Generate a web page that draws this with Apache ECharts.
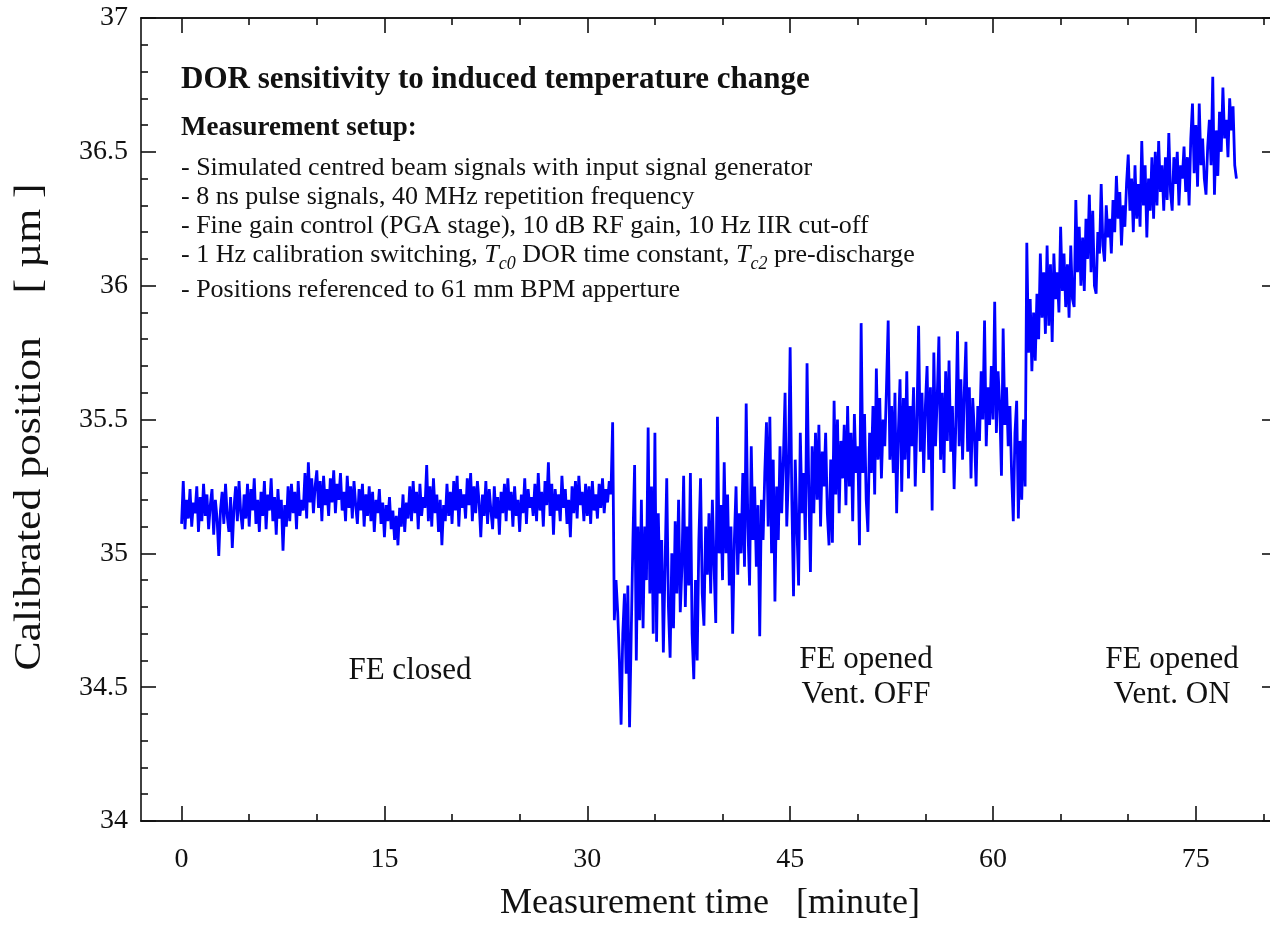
<!DOCTYPE html>
<html>
<head>
<meta charset="utf-8">
<title>DOR sensitivity to induced temperature change</title>
<script src="https://cdn.jsdelivr.net/npm/echarts@6/dist/echarts.min.js"></script>
<style>
  html, body { margin: 0; padding: 0; overflow: hidden; background: #ffffff; }
  #chart { width: 1290px; height: 925px; }
</style>
</head>
<body>
<div id="chart"></div>
<script>
// Sampling interval of the logged position, in minutes (8 samples per minute)
const sampleStepMin = 0.125;

// Calibrated beam position [um], one row per minute of measurement
const positionUm = [
  35.11, 35.27, 35.09, 35.20, 35.13, 35.24, 35.10, 35.19,
  35.15, 35.25, 35.08, 35.21, 35.12, 35.26, 35.14, 35.22,
  35.09, 35.18, 35.24, 35.07, 35.20, 35.13, 34.99, 35.16,
  35.23, 35.11, 35.26, 35.14, 35.08, 35.21, 35.02, 35.17,
  35.25, 35.12, 35.27, 35.15, 35.09, 35.22, 35.13, 35.26,
  35.10, 35.24, 35.16, 35.28, 35.11, 35.20, 35.08, 35.23,
  35.14, 35.27, 35.09, 35.22, 35.16, 35.28, 35.12, 35.21,
  35.07, 35.24, 35.13, 35.20, 35.01, 35.18, 35.10, 35.25,
  35.12, 35.26, 35.15, 35.23, 35.09, 35.27, 35.14, 35.20,
  35.16, 35.30, 35.13, 35.34, 35.19, 35.28, 35.15, 35.25,
  35.31, 35.17, 35.27, 35.12, 35.29, 35.18, 35.24, 35.14,
  35.28, 35.19, 35.31, 35.15, 35.26, 35.20, 35.30, 35.16,
  35.23, 35.12, 35.29, 35.17, 35.25, 35.13, 35.27, 35.18,
  35.11, 35.24, 35.16, 35.26, 35.10, 35.22, 35.14, 35.25,
  35.12, 35.23, 35.08, 35.20, 35.15, 35.24, 35.11, 35.19,
  35.06, 35.18, 35.12, 35.21, 35.09, 35.16, 35.05, 35.14,
  35.03, 35.17, 35.10, 35.22, 35.08, 35.19, 35.13, 35.25,
  35.12, 35.27, 35.15, 35.23, 35.09, 35.26, 35.14, 35.21,
  35.17, 35.33, 35.12, 35.25, 35.10, 35.28, 35.15, 35.22,
  35.08, 35.20, 35.03, 35.18, 35.12, 35.26, 35.14, 35.23,
  35.11, 35.27, 35.16, 35.29, 35.10, 35.24, 35.17, 35.22,
  35.13, 35.28, 35.18, 35.30, 35.12, 35.25, 35.15, 35.27,
  35.19, 35.06, 35.22, 35.14, 35.27, 35.11, 35.24, 35.16,
  35.09, 35.25, 35.13, 35.21, 35.07, 35.23, 35.15, 35.26,
  35.12, 35.28, 35.16, 35.23, 35.10, 35.25, 35.14, 35.20,
  35.08, 35.22, 35.15, 35.28, 35.11, 35.24, 35.17, 35.21,
  35.14, 35.26, 35.12, 35.30, 35.16, 35.23, 35.10, 35.27,
  35.18, 35.34, 35.14, 35.26, 35.07, 35.24, 35.16, 35.22,
  35.12, 35.29, 35.17, 35.24, 35.11, 35.20, 35.06, 35.25,
  35.15, 35.27, 35.13, 35.29, 35.18, 35.23, 35.12, 35.26,
  35.14, 35.25, 35.11, 35.27, 35.16, 35.22, 35.13, 35.26,
  35.17, 35.28, 35.15, 35.24, 35.19, 35.27, 35.22, 35.49,
  34.75, 34.90, 34.78, 34.60, 34.36, 34.70, 34.85, 34.55,
  34.88, 34.35, 34.70, 35.05, 35.33, 34.60, 35.10, 34.75,
  35.20, 34.72, 35.10, 34.90, 35.47, 34.85, 35.25, 34.70,
  35.45, 34.67, 35.15, 34.85, 35.05, 34.63, 34.95, 35.28,
  34.80, 34.61, 35.00, 34.72, 35.12, 34.85, 35.20, 34.78,
  34.95, 35.29, 34.80, 35.10, 34.88, 35.30, 34.70, 34.53,
  34.90, 34.60, 35.05, 35.28, 34.85, 34.73, 35.10, 34.92,
  35.15, 34.85, 35.20, 34.95, 34.74, 35.51, 35.00, 35.18,
  34.90, 35.34, 35.00, 35.22, 34.88, 35.10, 34.70, 35.05,
  35.25, 34.92, 35.15, 35.00, 35.30, 34.95, 35.56, 35.10,
  34.88, 35.40, 35.05, 35.25, 34.95, 35.18, 34.69, 35.20,
  35.05, 35.30, 35.49, 35.10, 35.51, 35.00, 35.35, 34.82,
  35.25, 35.05, 35.40, 35.15, 35.35, 35.60, 35.10, 35.30,
  35.77, 35.20, 34.84, 35.35, 35.10, 34.88, 35.45, 35.15,
  35.30, 35.05, 35.71, 35.25, 34.93, 35.40, 35.15, 35.45,
  35.20, 35.48, 35.10, 35.38, 35.25, 35.45, 35.15, 35.03,
  35.35, 35.04, 35.57, 35.22, 35.50, 35.15, 35.42, 35.28,
  35.48, 35.18, 35.55, 35.25, 35.45, 35.12, 35.52, 35.30,
  35.40, 35.03, 35.86, 35.30, 35.52, 35.20, 35.08, 35.45,
  35.30, 35.55, 35.22, 35.69, 35.35, 35.58, 35.28, 35.50,
  35.40, 35.62, 35.87, 35.35, 35.55, 35.30, 35.60, 35.15,
  35.45, 35.65, 35.23, 35.58, 35.35, 35.68, 35.28, 35.55,
  35.40, 35.62, 35.25, 35.50, 35.85, 35.38, 35.60, 35.30,
  35.55, 35.70, 35.35, 35.62, 35.16, 35.75, 35.40, 35.58,
  35.81, 35.35, 35.60, 35.30, 35.68, 35.42, 35.72, 35.38,
  35.55, 35.24, 35.48, 35.83, 35.40, 35.65, 35.35, 35.60,
  35.79, 35.38, 35.62, 35.28, 35.58, 35.45, 35.25, 35.55,
  35.42, 35.68, 35.50, 35.87, 35.40, 35.62, 35.48, 35.70,
  35.50, 35.94, 35.45, 35.68, 35.55, 35.29, 35.84, 35.48,
  35.62, 35.40, 35.55, 35.30, 35.12, 35.45, 35.57, 35.13,
  35.42, 35.20, 35.50, 35.25, 36.16, 35.75, 35.95, 35.68,
  35.90, 35.72, 35.97, 35.80, 36.12, 35.88, 36.05, 35.82,
  36.15, 35.85, 36.08, 35.79, 36.12, 35.95, 36.05, 35.90,
  36.22, 35.98, 36.12, 35.92, 36.08, 35.88, 36.15, 35.95,
  35.92, 36.32, 36.05, 36.22, 36.00, 36.18, 35.98, 36.25,
  36.10, 36.34, 36.05, 36.28, 36.00, 35.97, 36.20, 36.12,
  36.38, 36.15, 36.09, 36.30, 36.18, 36.25, 36.12, 36.32,
  36.20, 36.41, 36.25, 36.35, 36.15, 36.30, 36.22, 36.38,
  36.49, 36.28, 36.40, 36.20, 36.45, 36.25, 36.38, 36.22,
  36.54, 36.30, 36.45, 36.18, 36.40, 36.28, 36.48, 36.25,
  36.50, 36.30, 36.54, 36.35, 36.45, 36.28, 36.48, 36.32,
  36.57, 36.35, 36.28, 36.48, 36.38, 36.50, 36.30, 36.45,
  36.40, 36.52, 36.35, 36.48, 36.30, 36.55, 36.68, 36.42,
  36.60, 36.37, 36.68, 36.45, 36.55, 36.40, 36.34, 36.52,
  36.62, 36.45, 36.78, 36.34, 36.58, 36.41, 36.65, 36.50,
  36.74, 36.55, 36.62, 36.48, 36.70, 36.58, 36.67, 36.45,
  36.40
];

// Axis ranges and tick positions
const timeRange = [-3, 81];
const timeMajorTicks = [0, 15, 30, 45, 60, 75];
const timeMinorTicks = [5, 10, 20, 25, 35, 40, 50, 55, 65, 70, 80];
const positionRange = [34, 37];
const positionStep = 0.5;

// Texts
const xAxisTitle = 'Measurement time   [minute]';
const yAxisTitle = 'Calibrated position    [ \u00b5m ]';
const headline = 'DOR sensitivity to induced temperature change';
const setupHeading = 'Measurement setup:';
const setupLines = [
  '- Simulated centred beam signals with input signal generator',
  '- 8 ns pulse signals, 40 MHz repetition frequency',
  '- Fine gain control (PGA stage), 10 dB RF gain, 10 Hz IIR cut-off',
  '- 1 Hz calibration switching, {it|T}{sub|c0} DOR time constant, {it|T}{sub|c2} pre-discharge',
  '- Positions referenced to 61 mm BPM apperture'
];
const phaseNotes = [
  { lines: ['FE closed'], at: [410, 671] },
  { lines: ['FE opened', 'Vent. OFF'], at: [866, 660] },
  { lines: ['FE opened', 'Vent. ON'], at: [1172, 660] }
];

const FONT = '"Liberation Serif", "Times New Roman", serif';
const INK = '#111111';

const chart = echarts.init(document.getElementById('chart'), null, { renderer: 'canvas' });

const seriesData = positionUm.map((v, i) => [+(i * sampleStepMin).toFixed(3), v]);

const axisLine = { show: true, onZero: false, lineStyle: { color: INK, width: 1.6 } };

function timeAxis(position, ticks, len, withLabels) {
  return {
    type: 'value',
    position: position,
    min: timeRange[0],
    max: timeRange[1],
    axisLine: axisLine,
    axisTick: { show: true, inside: true, length: len, lineStyle: { color: INK, width: 1.6 }, customValues: ticks },
    axisLabel: withLabels
      ? { show: true, customValues: ticks, margin: 25, fontFamily: FONT, fontSize: 28, color: INK }
      : { show: false },
    splitLine: { show: false },
    minorTick: { show: false }
  };
}

function positionAxis(position, withLabels) {
  return {
    type: 'value',
    position: position,
    min: positionRange[0],
    max: positionRange[1],
    interval: positionStep,
    axisLine: axisLine,
    axisTick: { show: true, inside: true, length: 15, lineStyle: { color: INK, width: 1.6 } },
    minorTick: { show: true, splitNumber: 5, length: 7, lineStyle: { color: INK, width: 1.6 } },
    axisLabel: withLabels
      ? { show: true, margin: 13, fontFamily: FONT, fontSize: 28, color: INK }
      : { show: false },
    splitLine: { show: false },
    minorSplitLine: { show: false }
  };
}

const graphics = [];

// Axis titles
graphics.push({
  type: 'text', x: 710, y: 904,
  style: { text: xAxisTitle, fontFamily: FONT, fontSize: 36, fill: INK, textAlign: 'center', textVerticalAlign: 'middle' }
});
graphics.push({
  type: 'text', x: 30, y: 427, rotation: Math.PI / 2, scaleX: 1.18,
  style: { text: yAxisTitle, fontFamily: FONT, fontSize: 37, fill: INK, textAlign: 'center', textVerticalAlign: 'middle' }
});

// Setup notes block
graphics.push({
  type: 'text', x: 181, y: 80,
  style: { text: headline, font: 'bold 31px ' + FONT, fill: INK, textVerticalAlign: 'middle' }
});
graphics.push({
  type: 'text', x: 181, y: 128,
  style: { text: setupHeading, font: 'bold 27px ' + FONT, fill: INK, textVerticalAlign: 'middle' }
});
const lineYs = [168, 197, 226, 255, 290];
setupLines.forEach((t, k) => {
  graphics.push({
    type: 'text', x: 181, y: lineYs[k],
    style: {
      text: t,
      fontFamily: FONT, fontSize: 26, fill: INK,
      textVerticalAlign: 'middle',
      lineHeight: 36,
      rich: {
        it: { fontFamily: FONT, fontSize: 26, fontStyle: 'italic', lineHeight: 36, verticalAlign: 'middle' },
        sub: { fontFamily: FONT, fontSize: 18, fontStyle: 'italic', lineHeight: 18, verticalAlign: 'bottom' }
      }
    }
  });
});

// Phase annotations
phaseNotes.forEach(n => {
  n.lines.forEach((t, k) => {
    graphics.push({
      type: 'text', x: n.at[0], y: n.at[1] + k * 35,
      style: { text: t, fontFamily: FONT, fontSize: 31, fill: INK, textAlign: 'center', textVerticalAlign: 'middle' }
    });
  });
});

chart.setOption({
  animation: false,
  backgroundColor: '#ffffff',
  grid: { left: 141, right: 13, top: 18, bottom: 104, containLabel: false },
  xAxis: [
    timeAxis('bottom', timeMajorTicks, 15, true),
    timeAxis('bottom', timeMinorTicks, 7, false),
    timeAxis('top', timeMajorTicks, 15, false),
    timeAxis('top', timeMinorTicks, 7, false)
  ],
  yAxis: [
    positionAxis('left', true),
    positionAxis('right', false)
  ],
  series: [{
    type: 'line',
    xAxisIndex: 0,
    yAxisIndex: 0,
    data: seriesData,
    showSymbol: false,
    symbol: 'none',
    lineStyle: { color: '#0000ff', width: 2.8 },
    z: 3
  }],
  graphic: graphics
});
</script>
</body>
</html>
